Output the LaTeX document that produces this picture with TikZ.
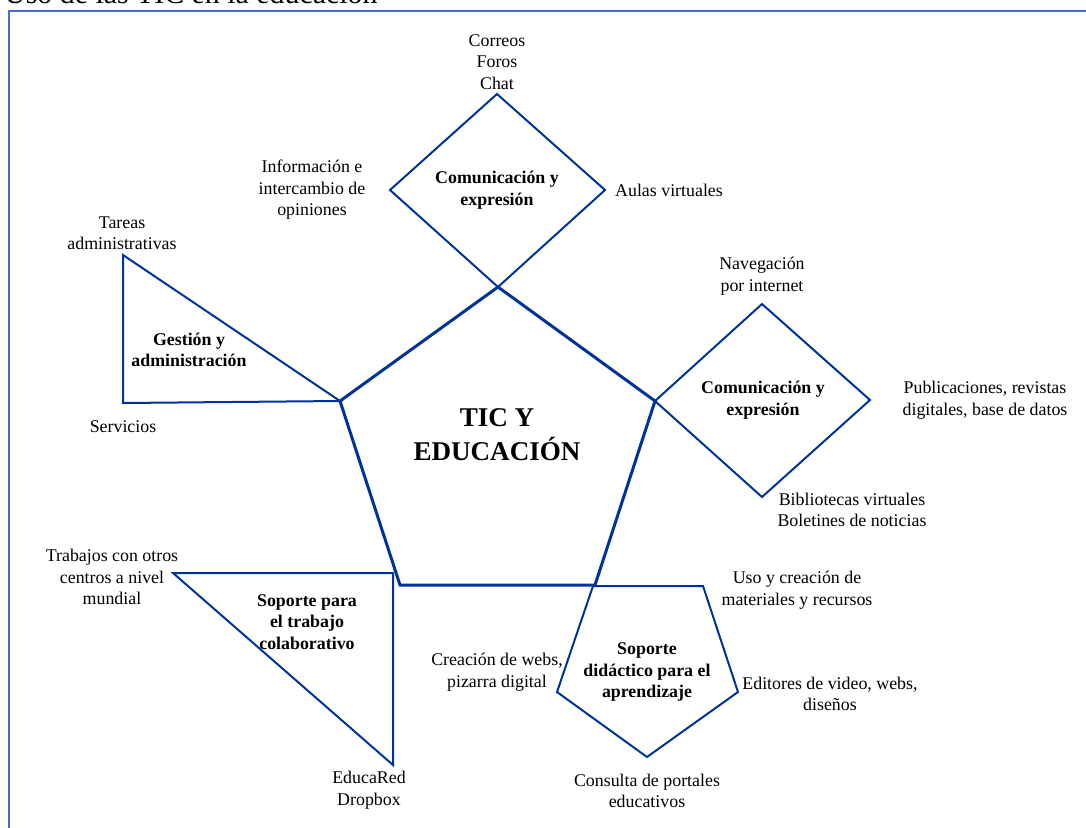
\documentclass[tikz,border=0pt]{standalone}
\usepackage{fontspec}
\setmainfont{Liberation Serif}
\definecolor{shapeblue}{RGB}{0,51,153}
\definecolor{frameblue}{RGB}{68,114,196}
\begin{document}
\begin{tikzpicture}[x=0.75pt,y=-0.75pt,
  thin shape/.style={draw=shapeblue, line width=1.5pt, line join=miter},
  main shape/.style={draw=shapeblue, line width=2.25pt, line join=miter},
  lbl/.style={font=\fontsize{13.4}{16.1}\selectfont, align=center, inner sep=0pt},
  blbl/.style={font=\fontsize{13.4}{16.1}\selectfont\bfseries, align=center, inner sep=0pt},
  big/.style={font=\fontsize{20.3}{25.5}\selectfont\bfseries, align=center, inner sep=0pt}]
\useasboundingbox (0,0) rectangle (1086,828);
% frame
\draw[frameblue, line width=1.2pt] (9,828) -- (9,11) -- (1086,11);
\node[anchor=base west, inner sep=0pt, font=\fontsize{22.4}{27}\selectfont] (title) at (4,3) {Uso de las TIC en la educación};

% coordinates
\coordinate (p1) at (498,287);
\coordinate (p2) at (655,401);
\coordinate (p3) at (595,585);
\coordinate (p4) at (400,585);
\coordinate (p5) at (340,401);

% top diamond
\draw[thin shape] (497,94) -- (605,190) -- (p1) -- (390,190) -- cycle;
% right diamond
\draw[thin shape] (p2) -- (762,304) -- (870,400) -- (762,497) -- cycle;
% gestion triangle
\draw[thin shape] (123,255) -- (123,403) -- (p5) -- cycle;
% colaborativo triangle
\draw[thin shape] (173,573) -- (393,573) -- (393,765) -- cycle;
% small pentagon
\draw[thin shape] (593,586) -- (703,586) -- (738,692) -- (647,757) -- (557,692) -- cycle;
% main pentagon
\draw[main shape] (p1) -- (p2) -- (p3) -- (p4) -- (p5) -- cycle;

% texts
\node[big] (main) at (497,435) {TIC Y\\EDUCACIÓN};
\node[blbl] (com1) at (497,190) {Comunicación y\\expresión};
\node[blbl] (com2) at (763,400) {Comunicación y\\expresión};
\node[blbl] (gest) at (189,350) {Gestión y\\administración};
\node[blbl] (colab) at (307,622) {Soporte para\\el trabajo\\colaborativo};
\node[blbl] (didac) at (647,672) {Soporte\\didáctico para el\\aprendizaje};

\node[lbl] (correos) at (497,62) {Correos\\Foros\\Chat};
\node[lbl] (info) at (312,190) {Información e\\intercambio de\\opiniones};
\node[lbl] (aulas) at (669,190) {Aulas virtuales};
\node[lbl] (tareas) at (122,233) {Tareas\\administrativas};
\node[lbl] (serv) at (123,427) {Servicios};
\node[lbl] (nav) at (762,276) {Navegación\\por internet};
\node[lbl] (publ) at (985,400) {Publicaciones, revistas\\digitales, base de datos};
\node[lbl] (bibl) at (852,510) {Bibliotecas virtuales\\Boletines de noticias};
\node[lbl] (uso) at (797,590) {Uso y creación de\\materiales y recursos};
\node[lbl] (crea) at (497,672) {Creación de webs,\\pizarra digital};
\node[lbl] (edit) at (830,694) {Editores de video, webs,\\diseños};
\node[lbl] (cons) at (647,791) {Consulta de portales\\educativos};
\node[lbl] (trab) at (112,577) {Trabajos con otros\\centros a nivel\\mundial};
\node[lbl] (educa) at (369,790) {EducaRed\\Dropbox};
\end{tikzpicture}
\end{document}
